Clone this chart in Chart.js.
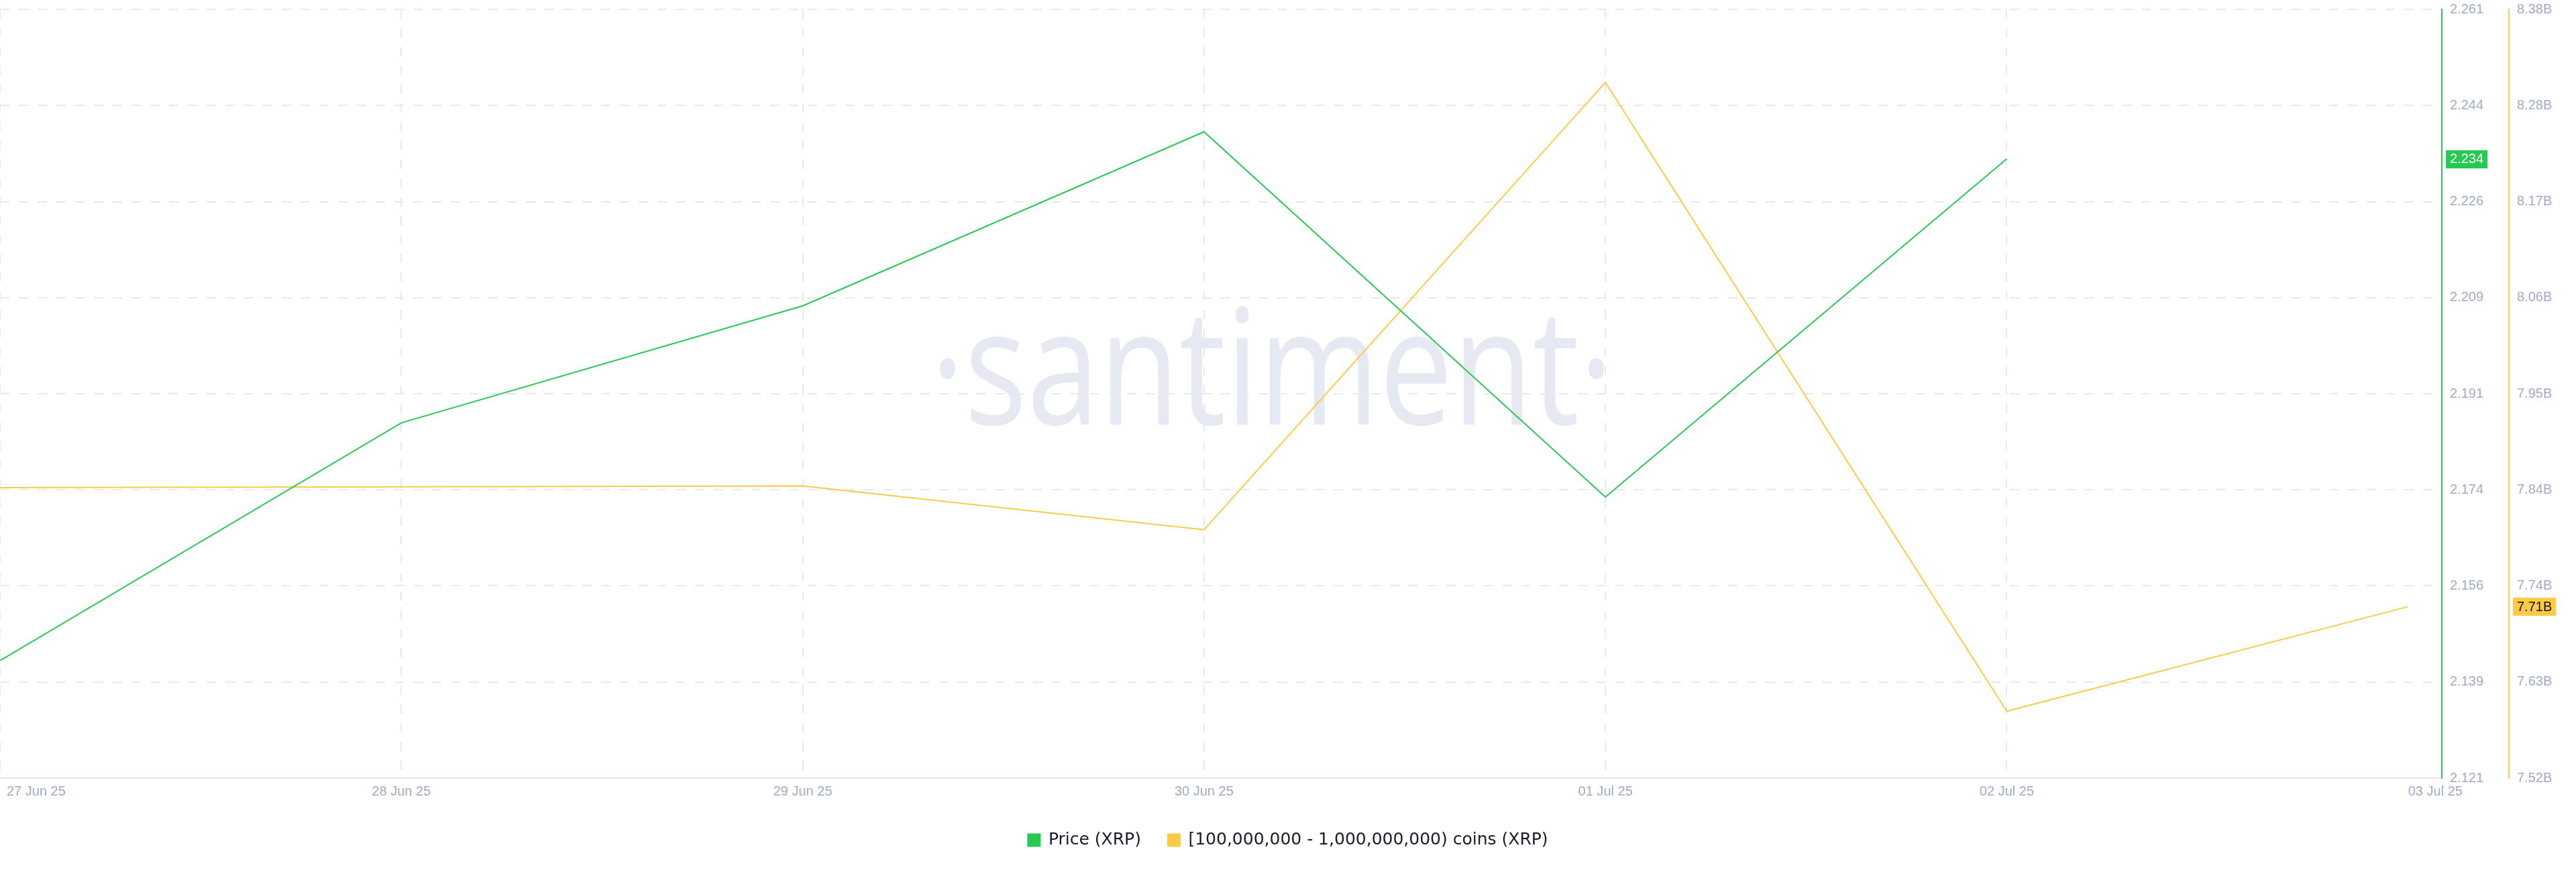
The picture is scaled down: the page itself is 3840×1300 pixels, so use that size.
<!DOCTYPE html>
<html>
<head>
<meta charset="utf-8">
<script src="https://cdn.jsdelivr.net/npm/chart.js@4.4.1/dist/chart.umd.min.js"></script>
<style>
  html, body { margin: 0; padding: 0; background: #ffffff; }
  #wrap { width: 3840px; height: 1300px; }
</style>
</head>
<body>
<div id="wrap"><canvas id="c" width="3840" height="1300"></canvas></div>
<script>
// ---- data ----
const dates = ['27 Jun 25', '28 Jun 25', '29 Jun 25', '30 Jun 25', '01 Jul 25', '02 Jul 25', '03 Jul 25'];
const priceXRP = [2.1426, 2.1859, 2.2072, 2.2389, 2.1724, 2.2340];
const holdersCoins = [7.8465e9, 7.8475e9, 7.8484e9, 7.7994e9, 8.3015e9, 7.5956e9, 7.7130e9];
const priceTickLabels = ['2.121', '2.139', '2.156', '2.174', '2.191', '2.209', '2.226', '2.244', '2.261'];
const holdersTickLabels = ['7.52B', '7.63B', '7.74B', '7.84B', '7.95B', '8.06B', '8.17B', '8.28B', '8.38B'];
const priceRange = [2.1212, 2.2612];
const holdersRange = [7.5205e9, 8.3835e9];
const xRange = [0, 6.084];
const seriesNames = ['Price (XRP)', '[100,000,000 - 1,000,000,000) coins (XRP)'];

// ---- styles ----
const GREEN = '#26c953';
const YELLOW = '#ffcb47';
const TICK_COLOR = '#a0aac6';
const GRID_COLOR = '#e6e9f2';
const TICK_FONT = { family: '"Liberation Sans", Arial, sans-serif', size: 20 };

const toPoints = (arr) => arr.map((v, i) => ({ x: i, y: v }));
const evenTicks = (range, n) => {
  const out = [];
  for (let i = 0; i < n; i++) out.push({ value: range[0] + (range[1] - range[0]) * i / (n - 1) });
  return out;
};

const watermark = {
  id: 'watermark',
  beforeDatasetsDraw(chart) {
    const ctx = chart.ctx;
    ctx.save();
    ctx.fillStyle = '#e6e8f2';
    ctx.font = '400 240px "Open Sans", sans-serif';
    ctx.textAlign = 'center';
    ctx.textBaseline = 'alphabetic';
    ctx.translate(1896, 633);
    ctx.scale(0.81, 1);
    ctx.fillText('\u00B7santiment\u00B7', 0, 0);
    ctx.restore();
  }
};

const xLabelAlign = {
  id: 'xLabelAlign',
  beforeDraw(chart) {
    const s = chart.scales.x;
    const items = s.getLabelItems();
    if (!items.length) return;
    const first = items[0];
    first.options.textAlign = 'left';
    first.options.translation[0] = s.getPixelForValue(0) + 10;
    const last = items[items.length - 1];
    last.options.textAlign = 'left';
    last.options.translation[0] = s.getPixelForValue(dates.length - 1);
  }
};

const lastValueBadges = {
  id: 'lastValueBadges',
  afterDraw(chart) {
    const ctx = chart.ctx;
    const defs = [
      { scale: chart.scales.y, value: priceXRP[priceXRP.length - 1], text: priceXRP[priceXRP.length - 1].toFixed(3), bg: GREEN, fg: '#ffffff' },
      { scale: chart.scales.y1, value: holdersCoins[holdersCoins.length - 1], text: (holdersCoins[holdersCoins.length - 1] / 1e9).toFixed(2) + 'B', bg: YELLOW, fg: '#111111' }
    ];
    ctx.save();
    ctx.font = '20px "Liberation Sans", Arial, sans-serif';
    ctx.textBaseline = 'middle';
    ctx.textAlign = 'left';
    for (const d of defs) {
      const y = d.scale.getPixelForValue(d.value);
      const x = d.scale.left + 6;
      const w = ctx.measureText(d.text).width + 12;
      ctx.fillStyle = d.bg;
      ctx.fillRect(x, Math.round(y - 13), w, 27);
      ctx.fillStyle = d.fg;
      ctx.fillText(d.text, x + 6, y + 1);
    }
    ctx.restore();
  }
};

const fitRight = (scale) => { scale.width = 100; scale.paddingTop = 0; scale.paddingBottom = 0; };

new Chart(document.getElementById('c'), {
  type: 'line',
  data: {
    datasets: [
      {
        label: seriesNames[0],
        data: toPoints(priceXRP),
        yAxisID: 'y',
        borderColor: GREEN,
        backgroundColor: GREEN,
        borderWidth: 2,
        pointRadius: 0,
        tension: 0,
        fill: false
      },
      {
        label: seriesNames[1],
        data: toPoints(holdersCoins),
        yAxisID: 'y1',
        borderColor: YELLOW,
        backgroundColor: YELLOW,
        borderWidth: 2,
        pointRadius: 0,
        tension: 0,
        fill: false
      }
    ]
  },
  options: {
    responsive: false,
    animation: false,
    events: [],
    layout: { padding: { top: 14, left: 0, right: 0, bottom: 25 } },
    plugins: {
      tooltip: { enabled: false },
      legend: {
        position: 'bottom',
        labels: {
          boxWidth: 18,
          boxHeight: 18,
          padding: 40,
          color: '#191c2c',
          font: { family: '"DejaVu Sans", sans-serif', size: 25 }
        }
      }
    },
    scales: {
      x: {
        type: 'linear',
        min: xRange[0],
        max: xRange[1],
        afterBuildTicks(scale) { scale.ticks = dates.map((_, i) => ({ value: i })); },
        afterFit(scale) { scale.paddingLeft = 0; scale.paddingRight = 0; },
        ticks: {
          autoSkip: false,
          maxRotation: 0,
          padding: 8,
          color: TICK_COLOR,
          font: TICK_FONT,
          callback: (v) => dates[v] ?? ''
        },
        grid: {
          drawTicks: false,
          lineWidth: 2,
          color: (c) => (c.tick && c.tick.value === dates.length - 1) ? 'rgba(0,0,0,0)' : GRID_COLOR
        },
        border: { display: true, color: '#e3e7f0', width: 2, dash: [14, 14] }
      },
      y: {
        type: 'linear',
        position: 'right',
        min: priceRange[0],
        max: priceRange[1],
        afterBuildTicks(scale) { scale.ticks = evenTicks(priceRange, priceTickLabels.length); },
        afterFit: fitRight,
        ticks: {
          padding: 12,
          color: TICK_COLOR,
          font: TICK_FONT,
          callback: (v, i) => priceTickLabels[i]
        },
        grid: { drawTicks: false, lineWidth: 2, color: GRID_COLOR },
        border: { display: true, color: GREEN, width: 2, dash: [14, 14] }
      },
      y1: {
        type: 'linear',
        position: 'right',
        min: holdersRange[0],
        max: holdersRange[1],
        afterBuildTicks(scale) { scale.ticks = evenTicks(holdersRange, holdersTickLabels.length); },
        afterFit: fitRight,
        ticks: {
          padding: 12,
          color: TICK_COLOR,
          font: TICK_FONT,
          callback: (v, i) => holdersTickLabels[i]
        },
        grid: { display: false, drawTicks: false, drawOnChartArea: false },
        border: { display: true, color: YELLOW, width: 2 }
      }
    }
  },
  plugins: [watermark, xLabelAlign, lastValueBadges]
});
</script>
</body>
</html>
